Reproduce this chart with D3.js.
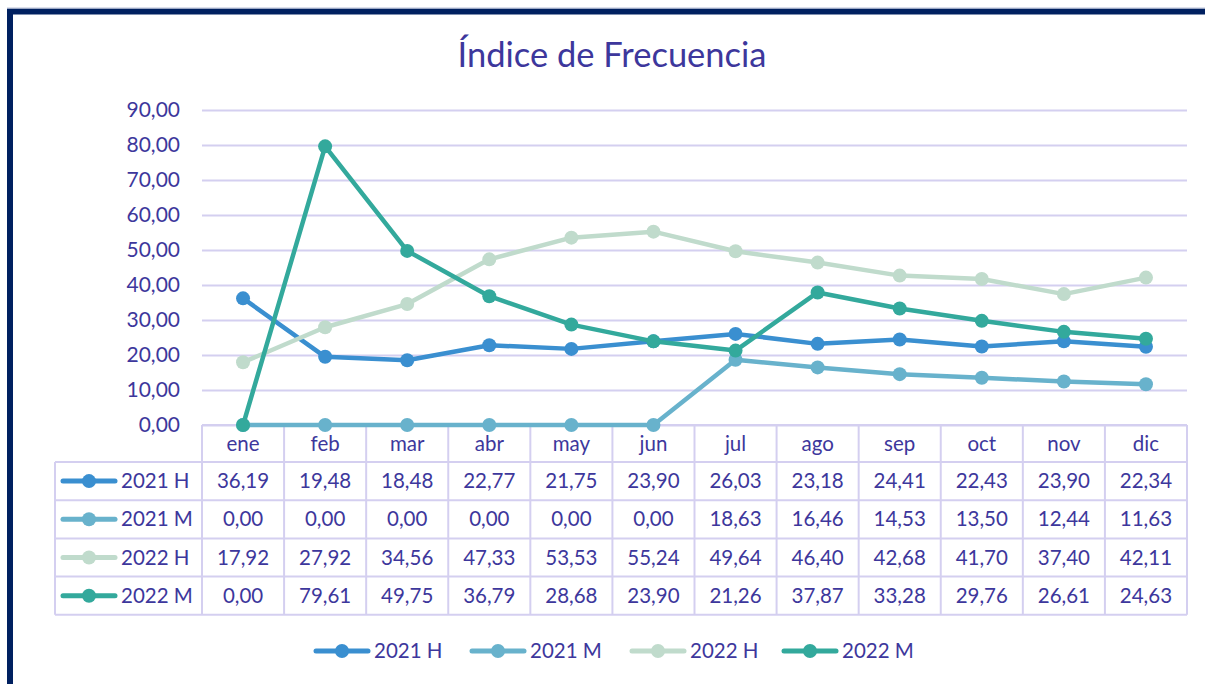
<!DOCTYPE html>
<html><head><meta charset="utf-8">
<script src="https://cdn.jsdelivr.net/npm/d3@7"></script>
<style>body{margin:0;background:#fff}svg{display:block}</style>
</head><body><svg id="c" width="1205" height="684"></svg>
<script>
const months = ["ene","feb","mar","abr","may","jun","jul","ago","sep","oct","nov","dic"];
const seriesNames = ["2021 H","2021 M","2022 H","2022 M"];
const s2021H = [36.19,19.48,18.48,22.77,21.75,23.90,26.03,23.18,24.41,22.43,23.90,22.34];
const s2021M = [0.00,0.00,0.00,0.00,0.00,0.00,18.63,16.46,14.53,13.50,12.44,11.63];
const s2022H = [17.92,27.92,34.56,47.33,53.53,55.24,49.64,46.40,42.68,41.70,37.40,42.11];
const s2022M = [0.00,79.61,49.75,36.79,28.68,23.90,21.26,37.87,33.28,29.76,26.61,24.63];
const yTicks = [0,10,20,30,40,50,60,70,80,90];
const colors = ["#3a8fd0","#68b2cc","#c0dbcc","#33a99c"];

const series = [s2021H, s2021M, s2022H, s2022M];
const txt = "#3d379c";
const gridC = "#d4cff0";
const font = "Lato, 'Open Sans', sans-serif";
const fmt = v => d3.format(".2f")(v).replace(".", ",");

const svg = d3.select("#c");
// frame
svg.append("rect").attr("x",10).attr("y",11.5).attr("width",1260).attr("height",760)
  .attr("fill","none").attr("stroke","#002060").attr("stroke-width",6);
svg.append("line").attr("x1",7).attr("x2",1205).attr("y1",8).attr("y2",8).attr("stroke","#b8c0d8").attr("stroke-width",1);

svg.append("text").attr("x",612).attr("y",67).attr("text-anchor","middle")
  .attr("font-family",font).attr("font-size",34.5).attr("fill",txt).text("Índice de Frecuencia");

const x = d3.scaleBand().domain(months).range([202,1187]);
const y = d3.scaleLinear().domain([0,90]).range([425,110]);

// grid
const yAxis = d3.axisLeft(y).tickValues(yTicks).tickFormat(fmt).tickSize(-(1187-202)).tickPadding(22);
const ga = svg.append("g").attr("transform","translate(202,0)").call(yAxis);
ga.select(".domain").remove();
ga.selectAll(".tick line").attr("stroke",gridC).attr("stroke-width",2);
ga.selectAll(".tick text").attr("font-family",font).attr("font-size",21).attr("fill",txt);

// table
const rowTop = 425, headH = 37, rowH = 38.2, leftX = 55;
const tg = svg.append("g");
const tableBottom = rowTop + headH + rowH*4;
tg.append("line").attr("x1",202).attr("x2",1187).attr("y1",rowTop).attr("y2",rowTop).attr("stroke",gridC).attr("stroke-width",2);
for (let i=0;i<=4;i++){
  const yy = rowTop + headH + rowH*i;
  tg.append("line").attr("x1",leftX).attr("x2",1187).attr("y1",yy).attr("y2",yy).attr("stroke",gridC).attr("stroke-width",2);
}
tg.append("line").attr("x1",leftX).attr("x2",leftX).attr("y1",rowTop+headH).attr("y2",tableBottom).attr("stroke",gridC).attr("stroke-width",2);
months.forEach(m=>{
  const xx = x(m);
  tg.append("line").attr("x1",xx).attr("x2",xx).attr("y1",rowTop).attr("y2",tableBottom).attr("stroke",gridC).attr("stroke-width",2);
});
tg.append("line").attr("x1",1187).attr("x2",1187).attr("y1",rowTop).attr("y2",tableBottom).attr("stroke",gridC).attr("stroke-width",2);

tg.selectAll("text.h").data(months).join("text").attr("class","h")
  .attr("x",d=>x(d)+x.bandwidth()/2).attr("y",rowTop+headH/2+7).attr("text-anchor","middle")
  .attr("font-family",font).attr("font-size",20.5).attr("fill",txt).text(d=>d);

function marker(g, cx, cy, color){
  g.append("line").attr("x1",cx-26).attr("x2",cx+26).attr("y1",cy).attr("y2",cy)
    .attr("stroke",color).attr("stroke-width",5).attr("stroke-linecap","round");
  g.append("circle").attr("cx",cx).attr("cy",cy).attr("r",7).attr("fill",color);
}

series.forEach((s,i)=>{
  const cy = rowTop + headH + rowH*i + rowH/2;
  marker(tg, 89, cy, colors[i]);
  tg.append("text").attr("x",121).attr("y",cy+7).attr("font-family",font).attr("font-size",20.5).attr("fill",txt).text(seriesNames[i]);
  tg.selectAll(null).data(s).join("text")
    .attr("x",(d,j)=>x(months[j])+x.bandwidth()/2).attr("y",cy+7).attr("text-anchor","middle")
    .attr("font-family",font).attr("font-size",20.5).attr("fill",txt).text(d=>fmt(d));
});

// lines
const line = d3.line().x((d,j)=>x(months[j])+x.bandwidth()/2).y(d=>y(d));
series.forEach((s,i)=>{
  const g = svg.append("g");
  g.append("path").datum(s).attr("d",line).attr("fill","none").attr("stroke",colors[i])
    .attr("stroke-width",4.5).attr("stroke-linejoin","round").attr("stroke-linecap","round");
  g.selectAll("circle").data(s).join("circle")
    .attr("cx",(d,j)=>x(months[j])+x.bandwidth()/2).attr("cy",d=>y(d)).attr("r",7).attr("fill",colors[i]);
});

// legend
const lg = svg.append("g");
const legX = [342, 498, 658, 810];
seriesNames.forEach((n,i)=>{
  marker(lg, legX[i], 651, colors[i]);
  lg.append("text").attr("x",legX[i]+32).attr("y",658).attr("font-family",font).attr("font-size",20.5).attr("fill",txt).text(n);
});
</script></body></html>
